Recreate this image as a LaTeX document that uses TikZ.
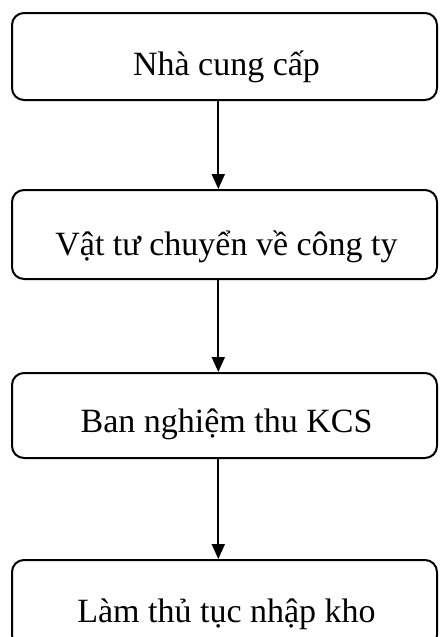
\documentclass[tikz,border=0pt]{standalone}
\usepackage{fontspec}
\setmainfont{Liberation Serif}
\usetikzlibrary{arrows.meta}
\begin{document}
\begin{tikzpicture}[x=1pt,y=-1pt,
  stagebox/.style={draw,line width=2pt,rounded corners=12pt,minimum width=425pt,inner sep=0pt},
  stagetext/.style={anchor=base,inner sep=0pt,font=\fontsize{34}{40}\selectfont},
  flow/.style={line width=2pt,-{Triangle[width=13pt,length=15pt]}}]
\useasboundingbox (0,0) rectangle (439,637);
% process stages, top to bottom
\node[stagebox,minimum height=87pt] (b1) at (224.5,56.5) {};
\node[stagebox,minimum height=89pt] (b2) at (224.5,234.5) {};
\node[stagebox,minimum height=85pt] (b3) at (224.5,415.5) {};
\node[stagebox,minimum height=87pt] (b4) at (224.5,603.5) {};
\node[stagetext] (t1) at ([yshift=-63pt,xshift=2pt]b1.north) {Nhà cung cấp};
\node[stagetext] (t2) at ([yshift=-66pt,xshift=2pt]b2.north) {Vật tư chuyển về công ty};
\node[stagetext] (t3) at ([yshift=-60pt,xshift=2pt]b3.north) {Ban nghiệm thu KCS};
\node[stagetext] (t4) at ([yshift=-63pt,xshift=2pt]b4.north) {Làm thủ tục nhập kho};
% connectors, slightly left of centre
\coordinate (ax) at (218.3,0);
\draw[flow] (b1.south -| ax) -- (b2.north -| ax);
\draw[flow] (b2.south -| ax) -- (b3.north -| ax);
\draw[flow] (b3.south -| ax) -- (b4.north -| ax);
\end{tikzpicture}
\end{document}
